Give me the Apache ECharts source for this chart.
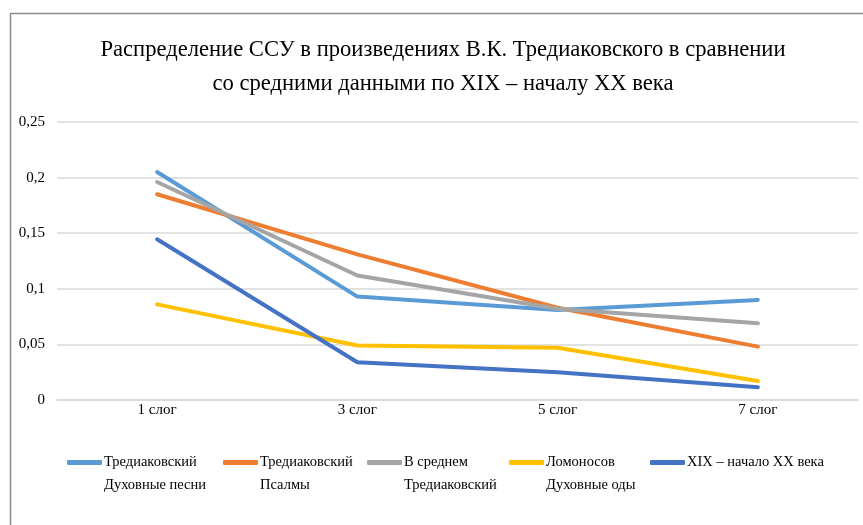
<!DOCTYPE html>
<html>
<head>
<meta charset="utf-8">
<script src="https://cdn.jsdelivr.net/npm/echarts@6/dist/echarts.min.js"></script>
<style>
html,body{margin:0;padding:0;background:#fff;}
#main{width:863px;height:525px;}
</style>
</head>
<body>
<div id="main"></div>
<script>
var categories = ['1 слог', '3 слог', '5 слог', '7 слог'];
var seriesNames = ['Тредиаковский\nДуховные песни', 'Тредиаковский\nПсалмы', 'В среднем\nТредиаковский', 'Ломоносов\nДуховные оды', 'XIX – начало XX века'];
var titleLines = ['Распределение ССУ в произведениях В.К. Тредиаковского в сравнении', 'со средними данными по XIX – началу XX века'];
var duhovnyePesni = [0.205, 0.093, 0.081, 0.090];
var psalmy = [0.185, 0.131, 0.083, 0.048];
var vSrednem = [0.196, 0.112, 0.082, 0.069];
var lomonosov = [0.086, 0.049, 0.047, 0.017];
var xix = [0.1445, 0.034, 0.025, 0.0115];
var yTicks = [0, 0.05, 0.1, 0.15, 0.2, 0.25];
var colors = ['#5B9BD5', '#ED7D31', '#A5A5A5', '#FFC000', '#4472C4'];
var values = [duhovnyePesni, psalmy, vSrednem, lomonosov, xix];

var font = '"Liberation Serif", "Times New Roman", serif';
var legendLefts = [67, 223, 367, 509, 650];

var legends = seriesNames.map(function (n, i) {
  var twoLine = n.indexOf('\n') >= 0;
  return {
    data: [n],
    left: legendLefts[i] - 5,
    top: twoLine ? 427 : 450,
    orient: 'horizontal',
    icon: 'roundRect',
    itemWidth: 35,
    itemHeight: 5,
    itemGap: 0,
    formatter: function (name) {
      if (name.indexOf('\n') < 0) return '{a|' + name + '}';
      return '{e| }\n' + name.split('\n').map(function (s) { return '{a|' + s + '}'; }).join('\n');
    },
    textStyle: {
      fontFamily: font,
      fontSize: 14.5,
      color: '#000',
      padding: [0, 0, 0, -3],
      rich: {
        a: { fontFamily: font, fontSize: 14.5, color: '#000', lineHeight: 23 },
        e: { fontFamily: font, fontSize: 14.5, lineHeight: 23 }
      }
    }
  };
});

var titles = titleLines.map(function (t, i) {
  return {
    text: t,
    left: 438,
    textAlign: 'center',
    top: 34 + i * 34,
    textStyle: {
      fontFamily: font,
      fontSize: 22.6,
      fontWeight: 'normal',
      color: '#000'
    }
  };
});

var chart = echarts.init(document.getElementById('main'));
chart.setOption({
  animation: false,
  backgroundColor: '#fff',
  color: colors,
  title: titles,
  graphic: [{
    type: 'rect',
    shape: { x: 10.5, y: 13.5, width: 900, height: 600 },
    style: { fill: 'none', stroke: '#8c8c8c', lineWidth: 1.5 },
    silent: true
  }],
  legend: legends,
  grid: { left: 57, right: 5, top: 122, bottom: 125, containLabel: false },
  xAxis: {
    type: 'category',
    data: categories,
    boundaryGap: true,
    axisLine: { lineStyle: { color: '#d9d9d9', width: 1.5 } },
    axisTick: { show: false },
    axisLabel: { fontFamily: font, fontSize: 15, color: '#000', margin: 3 }
  },
  yAxis: {
    type: 'value',
    min: 0,
    max: 0.25,
    interval: 0.05,
    axisLine: { show: false },
    axisTick: { show: false },
    splitLine: { lineStyle: { color: '#d9d9d9', width: 1.5 } },
    axisLabel: {
      fontFamily: font, fontSize: 15, color: '#000', margin: 12,
      formatter: function (v) {
        var s = yTicks.reduce(function (a, t) { return Math.abs(t - v) < 1e-9 ? t : a; }, v);
        return String(parseFloat(s.toFixed(4))).replace('.', ',');
      }
    }
  },
  series: values.map(function (d, i) {
    return {
      name: seriesNames[i],
      type: 'line',
      data: d,
      symbol: 'none',
      lineStyle: { width: 4, cap: 'round', join: 'round', color: colors[i] },
      itemStyle: { color: colors[i] }
    };
  })
});
</script>
</body>
</html>
